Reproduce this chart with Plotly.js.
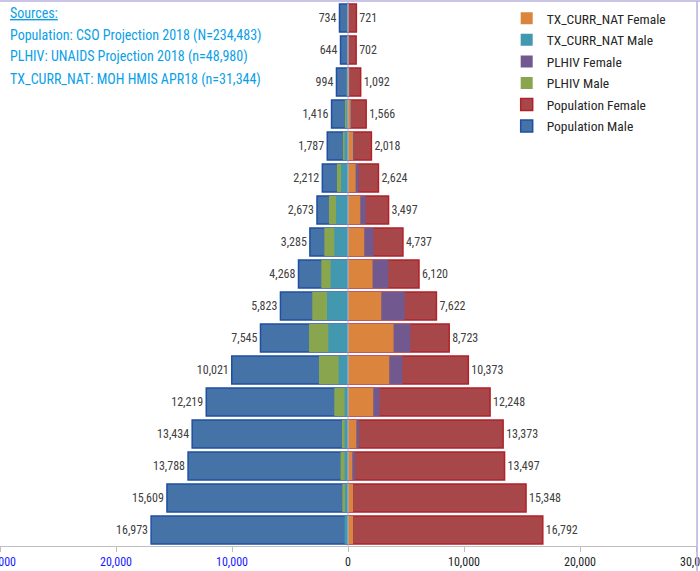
<!DOCTYPE html>
<html>
<head>
<meta charset="utf-8">
<script src="https://cdn.plot.ly/plotly-3.0.1.min.js"></script>
<style>html,body{margin:0;padding:0;background:#fff;}#chart{width:700px;height:571px;}</style>
</head>
<body>
<div id="chart"></div>
<script>
// Age groups, bottom (0-4) to top (80+)
const ageGroups = ['0-4','5-9','10-14','15-19','20-24','25-29','30-34','35-39','40-44','45-49','50-54','55-59','60-64','65-69','70-74','75-79','80+'];
const popMale     = [16973,15609,13788,13434,12219,10021,7545,5823,4268,3285,2673,2212,1787,1416,994,644,734];
const popFemale   = [16792,15348,13497,13373,12248,10373,8723,7622,6120,4737,3497,2624,2018,1566,1092,702,721];
const plhivMale   = [250,490,640,520,1180,2500,3360,3080,2300,2040,1640,950,430,260,110,60,60];
const plhivFemale = [400,400,600,950,2720,4680,5370,4880,3470,2180,1520,920,520,290,130,70,70];
const txMale      = [290,260,290,290,290,810,1700,1810,1500,1180,1035,600,290,130,70,40,40];
const txFemale    = [430,430,370,720,2180,3560,3930,2870,2120,1400,1060,660,430,225,100,50,50];
const tickValues  = [-30000,-20000,-10000,0,10000,20000,30000];
const tickLabels  = ['30,000','20,000','10,000','0','10,000','20,000','30,000'];
const sourceLines = ['Sources:','Population: CSO Projection 2018 (N=234,483)','PLHIV: UNAIDS Projection 2018 (n=48,980)','TX_CURR_NAT: MOH HMIS APR18 (n=31,344)'];

const FONT = '"Liberation Sans Narrow", "Arial Narrow", "Roboto Condensed", Roboto, sans-serif';
const fmt = v => v.toLocaleString('en-US');
const neg = a => a.map(v => -v);

function bar(name, x, fill, lineColor, lineW, text, rank) {
  const t = {
    type: 'bar', orientation: 'h', name: name, y: ageGroups, x: x,
    marker: {color: fill, line: {color: lineColor, width: lineW}},
    hoverinfo: 'skip', legendgroup: 'g' + rank, legendrank: rank
  };
  if (text) {
    t.text = text; t.textposition = 'outside'; t.cliponaxis = false;
    t.textfont = {family: FONT, size: 12, color: '#404040'};
  } else {
    t.textposition = 'none';
  }
  return t;
}

const traces = [
  bar('Population Male', neg(popMale), '#4573A8', '#1F4FA3', 1.5, popMale.map(fmt), 6),
  bar('Population Female', popFemale, '#A8474A', '#B0222A', 1.5, popFemale.map(fmt), 5),
  bar('PLHIV Male', neg(plhivMale), '#89A54E', '#89A54E', 0, null, 4),
  bar('PLHIV Female', plhivFemale, '#71588F', '#71588F', 0, null, 3),
  bar('TX_CURR_NAT Male', neg(txMale), '#4198AF', '#4198AF', 0, null, 2),
  bar('TX_CURR_NAT Female', txFemale, '#DB843D', '#DB843D', 0, null, 1)
];

const W = 700, H = 571, M = {l: 0, r: 4, t: 2, b: 25};
const plotH = H - M.t - M.b;
const py = pix => (H - M.b - pix) / plotH;

const ticktext = tickLabels.map((s, i) => tickValues[i] < 0 ? '<span style="color:#1a1aff">' + s + '</span>' : s);

const annotations = sourceLines.map((s, i) => ({
  xref: 'paper', yref: 'paper', x: 0.012, y: py(13 + 22 * i),
  xanchor: 'left', yanchor: 'middle', showarrow: false,
  text: i === 0 ? '<u>' + s + '</u>' : s,
  font: {family: FONT, size: 14, color: '#0AA0E8'}
}));

const layout = {
  width: W, height: H, margin: M,
  paper_bgcolor: '#ffffff', plot_bgcolor: '#ffffff',
  barmode: 'overlay', bargap: 0.12,
  showlegend: true,
  legend: {
    x: 0.728, y: py(3), xanchor: 'left', yanchor: 'top',
    traceorder: 'grouped', tracegroupgap: 1,
    font: {family: FONT, size: 13.5, color: '#262626'},
    bgcolor: 'rgba(255,255,255,0)', itemwidth: 30
  },
  xaxis: {
    range: [-30000, 30000], tickvals: tickValues, ticktext: ticktext,
    ticklabeloverflow: 'allow',
    showgrid: false, zeroline: false, showline: true, linecolor: '#bfbfbf', linewidth: 1,
    ticks: 'outside', ticklen: 5, tickcolor: '#bfbfbf',
    tickfont: {family: FONT, size: 12, color: '#262626'}, fixedrange: true
  },
  yaxis: {
    type: 'category', showticklabels: false, showgrid: false, zeroline: false,
    showline: false, ticks: '', fixedrange: true
  },
  annotations: annotations,
  shapes: [
    {type: 'line', xref: 'x', yref: 'paper', x0: 0, x1: 0, y0: 0, y1: 1, layer: 'above',
     line: {color: '#A9B4E6', width: 1}},
    {type: 'line', xref: 'paper', yref: 'paper', x0: 0, x1: 1.006, y0: py(1), y1: py(1),
     line: {color: '#B8B0DE', width: 1.5}},
    {type: 'line', xref: 'paper', yref: 'paper', x0: 1.0015, x1: 1.0015, y0: py(571), y1: py(1),
     line: {color: '#B8B0DE', width: 1.5}}
  ]
};

Plotly.newPlot('chart', traces, layout, {displayModeBar: false, staticPlot: true});
</script>
</body>
</html>
